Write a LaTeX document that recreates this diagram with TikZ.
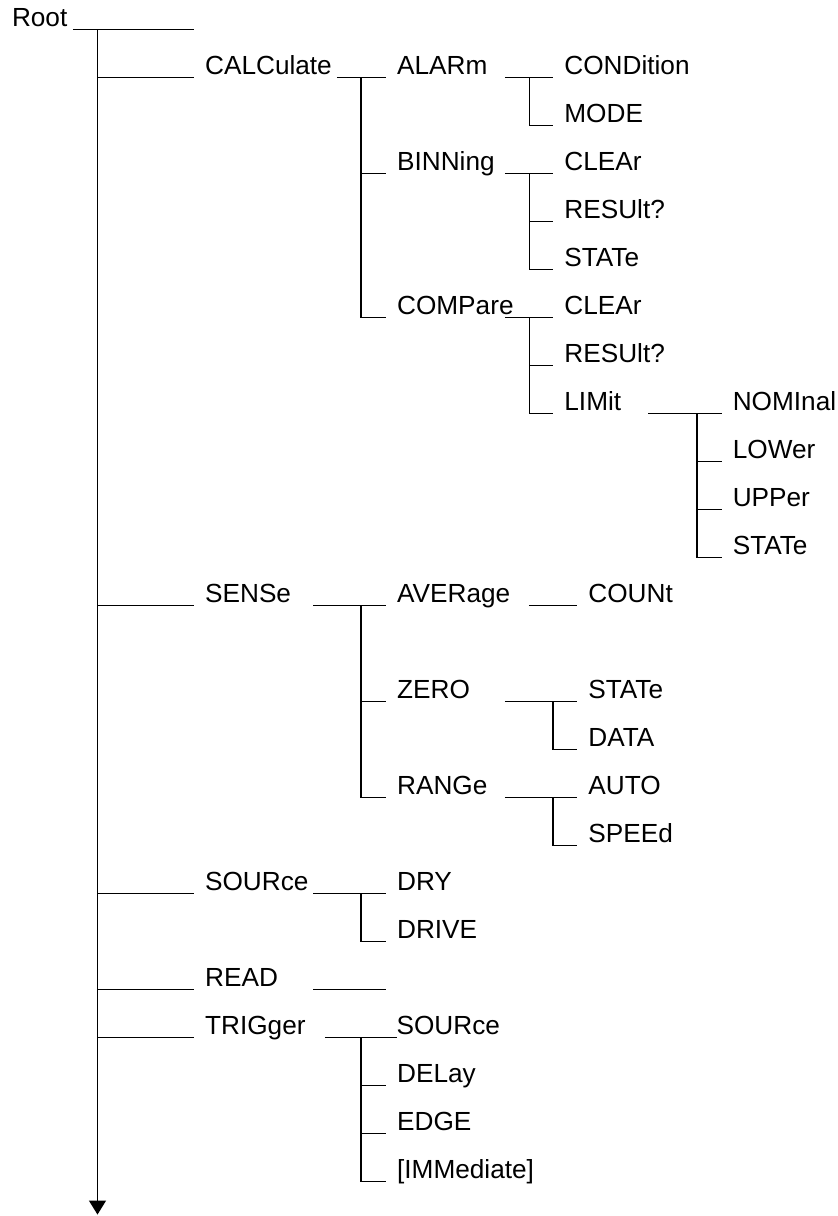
\documentclass[tikz,border=0pt]{standalone}
\usepackage{fontspec}
\setmainfont{Liberation Sans}
\usetikzlibrary{arrows.meta}

\begin{document}
\begin{tikzpicture}[x=1pt, y=-48pt, line width=1.3pt,
  lbl/.style={anchor=base west, inner sep=0pt, yshift=3.3pt,
    font=\fontsize{26.2}{30}\selectfont},
  item/.style={lbl, xshift=10.5pt}]
  \useasboundingbox (0,-0.615) rectangle (838,24.72);
  % root and trunk
  \coordinate (trunk) at (97.5,0);
  \coordinate (trunkEnd) at (97.5,24.69);
  \coordinate (rootA) at (73,0);
  \coordinate (rootB) at (194,0);
  \node[lbl, anchor=base east, xshift=-5pt] (root) at (rootA) {Root};
  \draw (rootA) -- (rootB);
  \draw[-{Triangle[length=14pt,width=17pt]}] (trunk) -- (trunkEnd);

  % first level
  \coordinate (calc-in) at (194,1);
  \coordinate (sense-in) at (194,12);
  \coordinate (source-in) at (194,18);
  \coordinate (read-in) at (194,20);
  \coordinate (trig-in) at (194,21);
  \node[item] (calc) at (calc-in) {CALCulate};
  \node[item] (sense) at (sense-in) {SENSe};
  \node[item] (source) at (source-in) {SOURce};
  \node[item] (read) at (read-in) {READ};
  \node[item] (trig) at (trig-in) {TRIGger};
  \draw (trunk |- calc-in) -- (calc-in);
  \draw (trunk |- sense-in) -- (sense-in);
  \draw (trunk |- source-in) -- (source-in);
  \draw (trunk |- read-in) -- (read-in);
  \draw (trunk |- trig-in) -- (trig-in);

  % second level
  \coordinate (alarm-in) at (386,1);
  \coordinate (binning-in) at (386,3);
  \coordinate (compare-in) at (386,6);
  \coordinate (average-in) at (386,12);
  \coordinate (zero-in) at (386,14);
  \coordinate (range-in) at (386,16);
  \coordinate (dry-in) at (386,18);
  \coordinate (drive-in) at (386,19);
  \coordinate (tsource-in) at (385.5,21);
  \coordinate (delay-in) at (386,22);
  \coordinate (edge-in) at (386,23);
  \coordinate (immediate-in) at (386,24);
  \node[item] (alarm) at (alarm-in) {ALARm};
  \node[item] (binning) at (binning-in) {BINNing};
  \node[item] (compare) at (compare-in) {COMPare};
  \node[item] (average) at (average-in) {AVERage};
  \node[item] (zero) at (zero-in) {ZERO};
  \node[item] (range) at (range-in) {RANGe};
  \node[item] (dry) at (dry-in) {DRY};
  \node[item] (drive) at (drive-in) {DRIVE};
  \node[item] (tsource) at (tsource-in) {SOURce};
  \node[item] (delay) at (delay-in) {DELay};
  \node[item] (edge) at (edge-in) {EDGE};
  \node[item] (immediate) at (immediate-in) {[IMMediate]};

  \coordinate (calc-out) at (337,1);
  \coordinate (calc-bus) at (361,1);
  \draw (calc-out) -- (alarm-in);
  \draw (calc-bus) |- (compare-in);
  \draw (calc-bus |- binning-in) -- (binning-in);

  \coordinate (sense-out) at (313.3,12);
  \coordinate (sense-bus) at (361,12);
  \draw (sense-out) -- (average-in);
  \draw (sense-bus) |- (range-in);
  \draw (sense-bus |- zero-in) -- (zero-in);

  \coordinate (source-out) at (313.3,18);
  \coordinate (source-bus) at (361,18);
  \draw (source-out) -- (dry-in);
  \draw (source-bus) |- (drive-in);

  \coordinate (read-out) at (313.3,20);
  \coordinate (read-end) at (385.7,20);
  \draw (read-out) -- (read-end);

  \coordinate (trig-out) at (325,21);
  \coordinate (trig-bus) at (361,21);
  \draw (trig-out) -- ([xshift=11.8pt]tsource-in);
  \draw (trig-bus) |- (immediate-in);
  \draw (trig-bus |- delay-in) -- (delay-in);
  \draw (trig-bus |- edge-in) -- (edge-in);

  % third level
  \coordinate (condition-in) at (553.3,1);
  \coordinate (mode-in) at (553.3,2);
  \coordinate (bclear-in) at (553.3,3);
  \coordinate (bresult-in) at (553.3,4);
  \coordinate (bstate-in) at (553.3,5);
  \coordinate (cclear-in) at (553.3,6);
  \coordinate (cresult-in) at (553.3,7);
  \coordinate (limit-in) at (553.3,8);
  \coordinate (count-in) at (577.3,12);
  \coordinate (zstate-in) at (577.3,14);
  \coordinate (zdata-in) at (577.3,15);
  \coordinate (auto-in) at (577.3,16);
  \coordinate (speed-in) at (577.3,17);
  \node[item] (condition) at (condition-in) {CONDition};
  \node[item] (mode) at (mode-in) {MODE};
  \node[item] (bclear) at (bclear-in) {CLEAr};
  \node[item] (bresult) at (bresult-in) {RESUlt?};
  \node[item] (bstate) at (bstate-in) {STATe};
  \node[item] (cclear) at (cclear-in) {CLEAr};
  \node[item] (cresult) at (cresult-in) {RESUlt?};
  \node[item] (limit) at (limit-in) {LIMit};
  \node[item] (count) at (count-in) {COUNt};
  \node[item] (zstate) at (zstate-in) {STATe};
  \node[item] (zdata) at (zdata-in) {DATA};
  \node[item] (auto) at (auto-in) {AUTO};
  \node[item] (speed) at (speed-in) {SPEEd};

  \coordinate (alarm-out) at (505,1);
  \coordinate (alarm-bus) at (529.3,1);
  \draw (alarm-out) -- (condition-in);
  \draw (alarm-bus) |- (mode-in);

  \coordinate (binning-out) at (505,3);
  \coordinate (binning-bus) at (529.3,3);
  \draw (binning-out) -- (bclear-in);
  \draw (binning-bus) |- (bstate-in);
  \draw (binning-bus |- bresult-in) -- (bresult-in);

  \coordinate (compare-out) at (505,6);
  \coordinate (compare-bus) at (529.3,6);
  \draw (compare-out) -- (cclear-in);
  \draw (compare-bus) |- (limit-in);
  \draw (compare-bus |- cresult-in) -- (cresult-in);

  \coordinate (average-out) at (529,12);
  \draw (average-out) -- (count-in);

  \coordinate (zero-out) at (505,14);
  \coordinate (zero-bus) at (553,14);
  \draw (zero-out) -- (zstate-in);
  \draw (zero-bus) |- (zdata-in);

  \coordinate (range-out) at (505,16);
  \coordinate (range-bus) at (553,16);
  \draw (range-out) -- (auto-in);
  \draw (range-bus) |- (speed-in);

  % fourth level
  \coordinate (nominal-in) at (721.7,8);
  \coordinate (lower-in) at (721.7,9);
  \coordinate (upper-in) at (721.7,10);
  \coordinate (lstate-in) at (721.7,11);
  \node[item] (nominal) at (nominal-in) {NOMInal};
  \node[item] (lower) at (lower-in) {LOWer};
  \node[item] (upper) at (upper-in) {UPPer};
  \node[item] (lstate) at (lstate-in) {STATe};

  \coordinate (limit-out) at (648.3,8);
  \coordinate (limit-bus) at (697,8);
  \draw (limit-out) -- (nominal-in);
  \draw (limit-bus) |- (lstate-in);
  \draw (limit-bus |- lower-in) -- (lower-in);
  \draw (limit-bus |- upper-in) -- (upper-in);
\end{tikzpicture}
\end{document}
